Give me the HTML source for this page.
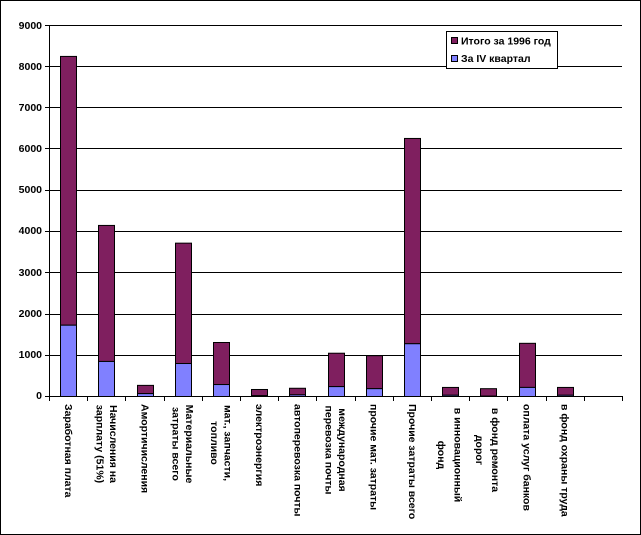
<!DOCTYPE html>
<html><head><meta charset="utf-8"><style>
html,body{margin:0;padding:0;background:#fff;}
svg{display:block;}
text{font-family:"Liberation Sans",Arial,sans-serif;font-weight:bold;font-size:10.5px;fill:#000;}
</style></head><body>
<svg width="641" height="535" viewBox="0 0 641 535" xmlns="http://www.w3.org/2000/svg">
<rect x="0.5" y="0.5" width="640" height="534" fill="#fff" stroke="#000"/>
<g stroke="#000" stroke-width="1">
<line x1="49" y1="25.5" x2="622" y2="25.5"/>
<line x1="49" y1="66.5" x2="622" y2="66.5"/>
<line x1="49" y1="107.5" x2="622" y2="107.5"/>
<line x1="49" y1="148.5" x2="622" y2="148.5"/>
<line x1="49" y1="190.5" x2="622" y2="190.5"/>
<line x1="49" y1="231.5" x2="622" y2="231.5"/>
<line x1="49" y1="272.5" x2="622" y2="272.5"/>
<line x1="49" y1="314.5" x2="622" y2="314.5"/>
<line x1="49" y1="355.5" x2="622" y2="355.5"/>
<line x1="49.5" y1="25" x2="49.5" y2="396"/>
</g>
<g stroke="#000">
<line x1="45" y1="25.5" x2="49" y2="25.5"/><line x1="45" y1="66.5" x2="49" y2="66.5"/><line x1="45" y1="107.5" x2="49" y2="107.5"/><line x1="45" y1="148.5" x2="49" y2="148.5"/><line x1="45" y1="190.5" x2="49" y2="190.5"/><line x1="45" y1="231.5" x2="49" y2="231.5"/><line x1="45" y1="272.5" x2="49" y2="272.5"/><line x1="45" y1="314.5" x2="49" y2="314.5"/><line x1="45" y1="355.5" x2="49" y2="355.5"/><line x1="45" y1="396.5" x2="49" y2="396.5"/>
</g>
<g text-anchor="end" dominant-baseline="central">
<text x="42" y="26">9000</text><text x="42" y="67">8000</text><text x="42" y="108">7000</text><text x="42" y="149">6000</text><text x="42" y="190">5000</text><text x="42" y="231">4000</text><text x="42" y="273">3000</text><text x="42" y="314">2000</text><text x="42" y="355">1000</text><text x="42" y="396">0</text>
</g>
<g stroke="#000" stroke-width="1">
<rect x="60.5" y="56.42" width="16" height="268.77" fill="#7f1f5f"/><rect x="60.5" y="325.19" width="16" height="71.31" fill="#8080ff"/>
<rect x="98.5" y="225.43" width="16" height="136.03" fill="#7f1f5f"/><rect x="98.5" y="361.46" width="16" height="35.04" fill="#8080ff"/>
<rect x="137.5" y="385.37" width="16" height="8.24" fill="#7f1f5f"/><rect x="137.5" y="393.61" width="16" height="2.89" fill="#8080ff"/>
<rect x="175.5" y="243.15" width="16" height="120.37" fill="#7f1f5f"/><rect x="175.5" y="363.52" width="16" height="32.98" fill="#8080ff"/>
<rect x="213.5" y="342.5" width="16" height="42.05" fill="#7f1f5f"/><rect x="213.5" y="384.55" width="16" height="11.95" fill="#8080ff"/>
<rect x="251.5" y="389.49" width="16" height="6.19" fill="#7f1f5f"/><rect x="251.5" y="395.68" width="16" height="0.82" fill="#8080ff"/>
<rect x="289.5" y="388.26" width="16" height="6.59" fill="#7f1f5f"/><rect x="289.5" y="394.85" width="16" height="1.65" fill="#8080ff"/>
<rect x="328.5" y="353.22" width="16" height="33.39" fill="#7f1f5f"/><rect x="328.5" y="386.61" width="16" height="9.89" fill="#8080ff"/>
<rect x="366.5" y="355.69" width="16" height="32.98" fill="#7f1f5f"/><rect x="366.5" y="388.67" width="16" height="7.83" fill="#8080ff"/>
<rect x="404.5" y="138.45" width="16" height="205.29" fill="#7f1f5f"/><rect x="404.5" y="343.74" width="16" height="52.76" fill="#8080ff"/>
<rect x="442.5" y="387.43" width="16" height="7.83" fill="#7f1f5f"/><rect x="442.5" y="395.26" width="16" height="1.24" fill="#8080ff"/>
<rect x="480.5" y="388.67" width="16" height="7.42" fill="#7f1f5f"/><rect x="480.5" y="396.09" width="16" height="0.41" fill="#8080ff"/>
<rect x="519.5" y="343.32" width="16" height="44.11" fill="#7f1f5f"/><rect x="519.5" y="387.43" width="16" height="9.07" fill="#8080ff"/>
<rect x="557.5" y="387.43" width="16" height="7.83" fill="#7f1f5f"/><rect x="557.5" y="395.26" width="16" height="1.24" fill="#8080ff"/>
</g>
<g stroke="#000">
<line x1="49" y1="396.5" x2="622" y2="396.5"/>
<line x1="49.5" y1="396" x2="49.5" y2="401"/><line x1="87.5" y1="396" x2="87.5" y2="401"/><line x1="125.5" y1="396" x2="125.5" y2="401"/><line x1="164.5" y1="396" x2="164.5" y2="401"/><line x1="202.5" y1="396" x2="202.5" y2="401"/><line x1="240.5" y1="396" x2="240.5" y2="401"/><line x1="278.5" y1="396" x2="278.5" y2="401"/><line x1="316.5" y1="396" x2="316.5" y2="401"/><line x1="355.5" y1="396" x2="355.5" y2="401"/><line x1="393.5" y1="396" x2="393.5" y2="401"/><line x1="431.5" y1="396" x2="431.5" y2="401"/><line x1="469.5" y1="396" x2="469.5" y2="401"/><line x1="507.5" y1="396" x2="507.5" y2="401"/><line x1="546.5" y1="396" x2="546.5" y2="401"/><line x1="584.5" y1="396" x2="584.5" y2="401"/><line x1="622.5" y1="396" x2="622.5" y2="401"/>
</g>
<g dominant-baseline="central">
<text x="68.1" y="404" transform="rotate(90 68.1 404)">Заработная плата</text>
<text x="144.5" y="404" transform="rotate(90 144.5 404)">Амортичисления</text>
<text x="259.1" y="404" transform="rotate(90 259.1 404)">электроэнергия</text>
<text x="297.3" y="404" transform="rotate(90 297.3 404)">автоперевозка почты</text>
<text x="373.7" y="404" transform="rotate(90 373.7 404)">прочие мат. затраты</text>
<text x="411.9" y="404" transform="rotate(90 411.9 404)">Прочие затраты всего</text>
<text x="526.5" y="404" transform="rotate(90 526.5 404)">оплата услуг банков</text>
<text x="564.7" y="404" transform="rotate(90 564.7 404)">в фонд охраны труда</text>
</g>
<g dominant-baseline="central" text-anchor="middle">
<text x="112.8" y="444" transform="rotate(90 112.8 444)">Начисления на</text>
<text x="99.3" y="444" transform="rotate(90 99.3 444)">зарплату (51%)</text>
<text x="189.2" y="444" transform="rotate(90 189.2 444)">Материальные</text>
<text x="175.7" y="444" transform="rotate(90 175.7 444)">затраты всего</text>
<text x="227.4" y="443" transform="rotate(90 227.4 443)">мат., запчасти,</text>
<text x="213.9" y="443" transform="rotate(90 213.9 443)">топливо</text>
<text x="342" y="450" transform="rotate(90 342 450)">международная</text>
<text x="328.5" y="450" transform="rotate(90 328.5 450)">перевозка почты</text>
<text x="457.5" y="455" transform="rotate(90 457.5 455)">в инновационный</text>
<text x="441" y="455" transform="rotate(90 441 455)">фонд</text>
<text x="495" y="450" transform="rotate(90 495 450)">в фонд ремонта</text>
<text x="479" y="450" transform="rotate(90 479 450)">дорог</text>
</g>
<rect x="446.5" y="31.5" width="111" height="37" fill="#fff" stroke="#000"/>
<rect x="451.5" y="37.5" width="6" height="6" fill="#7f1f5f" stroke="#000"/>
<rect x="451.5" y="55.5" width="6" height="6" fill="#8080ff" stroke="#000"/>
<text x="461" y="44.5">Итого за 1996 год</text>
<text x="461" y="62">За IV квартал</text>
</svg>
</body></html>
